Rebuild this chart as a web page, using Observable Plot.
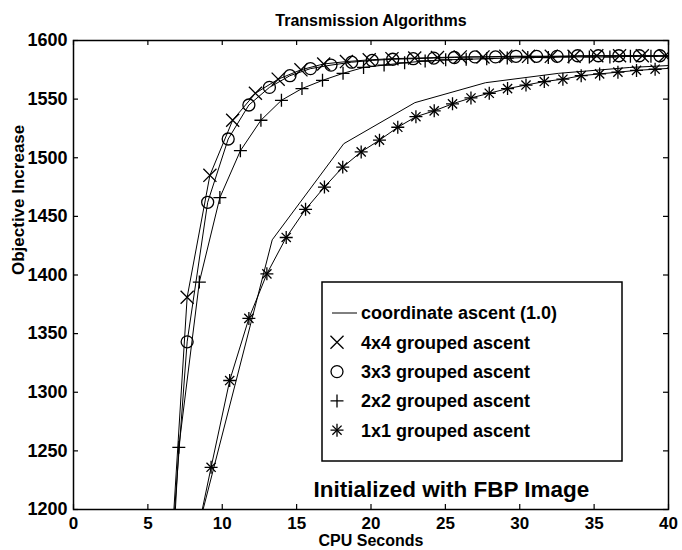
<!DOCTYPE html>
<html>
<head>
<meta charset="utf-8">
<script src="https://cdn.jsdelivr.net/npm/d3@7"></script>
<script src="https://cdn.jsdelivr.net/npm/@observablehq/plot@0.6"></script>
<style>
  html, body { margin: 0; padding: 0; background: #fff; }
</style>
</head>
<body>
<div id="chart"></div>
<script>
// ---- data ----
const xTicks = [0, 5, 10, 15, 20, 25, 30, 35, 40];
const yTicks = [1200, 1250, 1300, 1350, 1400, 1450, 1500, 1550, 1600];

// coordinate ascent (1.0) – plain line
const xCoord = [8.55, 13.36, 18.17, 22.95, 27.7, 32.6, 37.4, 42.2];
const yCoord = [1192, 1430, 1512, 1547, 1564, 1572, 1577, 1580];

// 4x4 grouped ascent (x marker)
const x4 = [6.11, 7.64, 9.17, 10.70, 12.23, 13.76, 15.29, 16.82, 18.35, 19.88, 21.41, 22.94, 24.47, 26.00, 27.53, 29.06, 30.59, 32.12, 33.65, 35.18, 36.71, 38.24, 39.77, 41.30];
const y4 = [1070, 1381, 1485, 1532, 1555, 1567, 1575, 1580, 1582, 1583.5, 1584.5, 1585, 1585.5, 1586, 1586, 1586.5, 1586.5, 1586.5, 1586.5, 1587, 1587, 1587, 1587, 1587];

// 3x3 grouped ascent (circle)
const x3 = [6.26, 7.64, 9.02, 10.40, 11.79, 13.17, 14.55, 15.93, 17.31, 18.70, 20.08, 21.46, 22.84, 24.22, 25.60, 26.99, 28.37, 29.75, 31.13, 32.51, 33.89, 35.28, 36.66, 38.04, 39.42, 40.80];
const y3 = [1108, 1343, 1462, 1516, 1545, 1560, 1570, 1576, 1579, 1581.5, 1583, 1584, 1584.5, 1585, 1585.5, 1586, 1586, 1586.5, 1586.5, 1586.5, 1587, 1587, 1587, 1587, 1587, 1587];

// 2x2 grouped ascent (plus)
const x2 = [5.70, 7.08, 8.46, 9.84, 11.22, 12.60, 13.98, 15.36, 16.74, 18.12, 19.50, 20.88, 22.26, 23.64, 25.02, 26.40, 27.78, 29.16, 30.54, 31.92, 33.30, 34.68, 36.06, 37.44, 38.82, 40.20];
const y2 = [936, 1253, 1394, 1466, 1506, 1532, 1549, 1559, 1566, 1572, 1577, 1579, 1581, 1582.5, 1583.5, 1584, 1584.5, 1585, 1585.5, 1585.5, 1586, 1586, 1586, 1586.5, 1586.5, 1586.5];

// 1x1 grouped ascent (asterisk)
const x1 = [8.00, 9.25, 10.50, 11.79, 13.00, 14.30, 15.60, 16.87, 18.10, 19.34, 20.57, 21.80, 23.02, 24.25, 25.48, 26.72, 27.95, 29.18, 30.42, 31.65, 32.90, 34.13, 35.37, 36.60, 37.85, 39.10, 40.33];
const y1 = [1160, 1236, 1310, 1363, 1401, 1432, 1456, 1475, 1492, 1505, 1515, 1526, 1535, 1540, 1546, 1551, 1555, 1559, 1562, 1565, 1567, 1570, 1571.5, 1573, 1574.5, 1575.5, 1576.5];

const legendLabels = ["coordinate ascent (1.0)", "4x4 grouped ascent", "3x3 grouped ascent", "2x2 grouped ascent", "1x1 grouped ascent"];

const zip = (xs, ys) => xs.map((x, i) => ({x, y: ys[i]}));
const dCoord = zip(xCoord, yCoord);
const d4 = zip(x4, y4);
const d3s = zip(x3, y3);
const d2 = zip(x2, y2);
const d1 = zip(x1, y1);

const W = 682, H = 550;
const mT = 40, mL = 73, mR = 14, mB = 41;
const frameW = W - mL - mR, frameH = H - mT - mB;
const tickLen = 5;
const FONT = "'Liberation Sans', Arial, Helvetica, sans-serif";

const lineOpts = {x: "x", y: "y", stroke: "black", strokeWidth: 1, clip: true};
const dotOpts = (sym, r) => ({x: "x", y: "y", symbol: sym, r, stroke: "black", strokeWidth: 1.3, fill: "none", clip: true});

const chart = Plot.plot({
  width: W, height: H,
  marginTop: mT, marginLeft: mL, marginRight: mR, marginBottom: mB,
  style: {fontFamily: FONT, fontSize: "18px", fontWeight: "bold", color: "black", background: "white", overflow: "visible"},
  x: {domain: [0, 40]},
  y: {domain: [1200, 1600]},
  marks: [
    Plot.line(dCoord, lineOpts),
    Plot.line(d4, lineOpts),
    Plot.line(d3s, lineOpts),
    Plot.line(d2, lineOpts),
    Plot.line(d1, lineOpts),
    Plot.dot(d4, dotOpts("times", 6)),
    Plot.dot(d3s, dotOpts("circle", 6)),
    Plot.dot(d2, dotOpts("plus", 4.26)),
    Plot.dot(d1, dotOpts("plus", 4.26)),
    Plot.dot(d1, dotOpts("times", 4.26)),
    // inward ticks on all four sides
    Plot.tickX(xTicks, {x: d => d, insetTop: frameH - tickLen, stroke: "black", strokeWidth: 1.2}),
    Plot.tickX(xTicks, {x: d => d, insetBottom: frameH - tickLen, stroke: "black", strokeWidth: 1.2}),
    Plot.tickY(yTicks, {y: d => d, insetRight: frameW - tickLen, stroke: "black", strokeWidth: 1.2}),
    Plot.tickY(yTicks, {y: d => d, insetLeft: frameW - tickLen, stroke: "black", strokeWidth: 1.2}),
    Plot.axisX({ticks: xTicks, tickSize: 0, tickPadding: 7, tickFormat: d => String(d), label: null, fontSize: 17}),
    Plot.axisY({ticks: yTicks, tickSize: 0, tickPadding: 6, tickFormat: d => String(d), label: null}),
    Plot.frame({stroke: "black", strokeWidth: 1.5}),
    Plot.text(["Transmission Algorithms"], {frameAnchor: "top", dy: -15, lineAnchor: "bottom", fontSize: 16, fontWeight: "bold"}),
    Plot.text(["CPU Seconds"], {frameAnchor: "bottom", dy: 25, lineAnchor: "top", fontSize: 16, fontWeight: "bold"}),
    Plot.text(["Objective Increase"], {frameAnchor: "left", dx: -55, rotate: -90, fontSize: 17, fontWeight: "bold"}),
    Plot.text(["Initialized with FBP Image"], {frameAnchor: "bottom-left", dx: 240, dy: -13, textAnchor: "start", lineAnchor: "bottom", fontSize: 22.5, fontWeight: "bold"})
  ]
});

document.getElementById("chart").appendChild(chart);

// ---- legend box ----
const svg = d3.select(chart);
const lg = svg.append("g").attr("font-family", FONT).attr("font-weight", "bold").attr("font-size", 18).attr("text-anchor", "start");
const bx = 322, by = 282, bw = 300, bh = 179;
lg.append("rect").attr("x", bx).attr("y", by).attr("width", bw).attr("height", bh)
  .attr("fill", "white").attr("stroke", "black").attr("stroke-width", 1.5);
const rowY = i => by + 31 + i * 29.3;
const mx = 337;
lg.append("line").attr("x1", 332).attr("x2", 357).attr("y1", rowY(0)).attr("y2", rowY(0)).attr("stroke", "black").attr("stroke-width", 1);
const sym = (type, r, y) => lg.append("path")
  .attr("transform", `translate(${mx},${y})`)
  .attr("d", d3.symbol().type(type).size(Math.PI * r * r)())
  .attr("fill", "none").attr("stroke", "black").attr("stroke-width", 1.3);
sym(d3.symbolTimes, 6, rowY(1));
sym(d3.symbolCircle, 6, rowY(2));
sym(d3.symbolPlus, 4.26, rowY(3));
sym(d3.symbolPlus, 4.26, rowY(4));
sym(d3.symbolTimes, 4.26, rowY(4));
legendLabels.forEach((t, i) => {
  lg.append("text").attr("x", 361).attr("y", rowY(i)).attr("dy", "0.35em").attr("text-anchor", "start").text(t);
});
</script>
</body>
</html>
